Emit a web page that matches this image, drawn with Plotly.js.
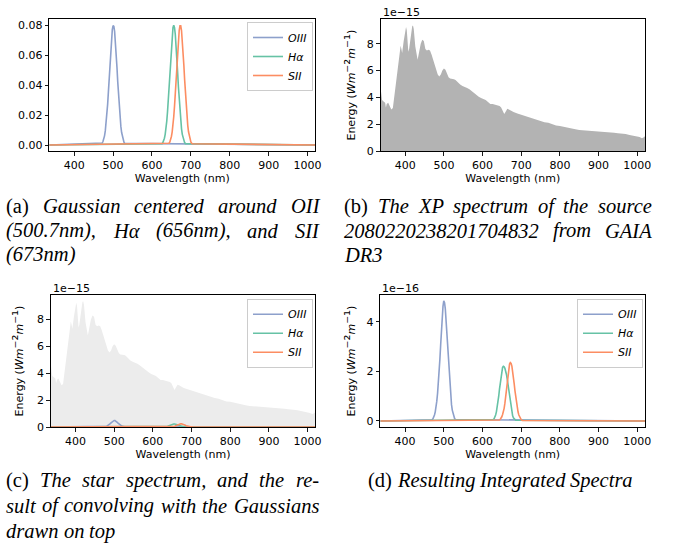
<!DOCTYPE html>
<html><head><meta charset="utf-8">
<script src="https://cdn.plot.ly/plotly-3.0.1.min.js"></script>
<style>
html,body{margin:0;padding:0;background:#fff;}
#chart{width:676px;height:552px;}
</style></head>
<body>
<div id="chart"></div>
<script>
// ---- data ----
const wlXP = [336,338,340,344,348,350,352,356,360,364,368,372,376,380,384,388,390,392,396,400,402,404,406,408,410,414,418,420,422,426,430,432,436,440,444,448,452,456,460,464,468,472,476,480,484,488,492,496,500,504,508,512,516,520,526,530,536,542,548,554,560,566,572,578,584,590,596,602,608,614,620,626,632,638,644,648,652,656,660,664,668,674,680,690,700,710,720,730,740,750,760,770,780,790,800,810,820,830,840,850,860,870,880,890,900,910,920,930,940,950,960,970,980,990,1000,1006,1012,1016,1020];
// flux in units of 1e-15 W m^-2 m^-1
const fluxXP = [4.75,4.2,3.8,3.7,3.6,3.25,3.5,3.6,3.3,3.1,3.2,4.1,5.1,6.2,7.2,7.85,7.6,7.3,8.2,9.0,9.25,9.0,8.0,7.4,7.6,8.6,9.3,9.35,9.1,7.8,6.9,6.8,7.4,8.0,8.3,8.2,7.6,7.5,7.55,7.5,7.2,6.8,6.4,5.95,5.7,5.55,5.7,6.0,6.15,6.05,5.75,5.5,5.4,5.4,5.35,5.3,5.1,4.95,4.85,4.8,4.7,4.6,4.45,4.3,4.2,4.05,3.95,3.9,3.8,3.65,3.5,3.5,3.45,3.4,3.35,3.25,3.0,2.75,2.95,3.15,3.1,3.0,2.9,2.8,2.7,2.6,2.5,2.45,2.35,2.25,2.15,2.1,2.0,1.9,1.87,1.8,1.72,1.66,1.62,1.57,1.55,1.52,1.5,1.48,1.46,1.44,1.42,1.42,1.36,1.32,1.3,1.26,1.2,1.15,1.1,1.05,0.96,1.0,1.1];

const wlOIII = [336,470,472,474,476,478,480,482,484,486,488,490,492,494,496,498,500,502,504,506,508,510,512,514,516,518,520,522,524,526,528,530,1020];
const wlHa   = [336,626,628,630,632,634,636,638,640,642,644,646,648,650,652,654,656,658,660,662,664,666,668,670,672,674,676,678,680,682,684,686,1020];
const wlSII  = [336,642,644,646,648,650,652,654,656,658,660,662,664,666,668,670,672,674,676,678,680,682,684,686,688,690,692,694,696,698,700,702,704,1020];

const filtOIII = [0,0.0008,0.0013,0.0023,0.0038,0.0061,0.0094,0.0139,0.0198,0.0271,0.0356,0.0450,0.0547,0.0638,0.0715,0.0769,0.0796,0.0791,0.0756,0.0693,0.0611,0.0518,0.0421,0.0330,0.0248,0.0179,0.0124,0.0083,0.0053,0.0032,0.0019,0.0011,0];
const filtHa   = [0,0.0009,0.0016,0.0027,0.0045,0.0071,0.0108,0.0158,0.0222,0.0299,0.0388,0.0484,0.0579,0.0667,0.0737,0.0782,0.0798,0.0782,0.0737,0.0667,0.0579,0.0484,0.0388,0.0299,0.0222,0.0158,0.0108,0.0071,0.0045,0.0027,0.0016,0.0009,0];
const filtSII  = [0,0.0008,0.0012,0.0021,0.0035,0.0057,0.0088,0.0131,0.0188,0.0259,0.0343,0.0436,0.0532,0.0625,0.0704,0.0763,0.0794,0.0794,0.0763,0.0704,0.0625,0.0532,0.0436,0.0343,0.0259,0.0188,0.0131,0.0088,0.0057,0.0035,0.0021,0.0012,0.0008,0];

// integrated spectra in units of 1e-16 W m^-2 m^-1
const intOIII = [0,0.05,0.09,0.15,0.24,0.37,0.55,0.80,1.12,1.51,1.96,2.50,3.08,3.69,4.24,4.63,4.85,4.78,4.53,4.05,3.48,2.88,2.29,1.78,1.32,0.96,0.66,0.44,0.28,0.17,0.10,0.06,0];
const intHa   = [0,0.03,0.06,0.09,0.15,0.24,0.37,0.54,0.75,1.00,1.29,1.58,1.86,2.06,2.17,2.21,2.19,2.13,2.03,1.88,1.69,1.47,1.20,0.93,0.68,0.48,0.32,0.21,0.13,0.08,0.05,0.03,0];
const intSII  = [0,0.02,0.04,0.07,0.11,0.17,0.26,0.37,0.51,0.72,0.99,1.30,1.64,1.92,2.14,2.30,2.36,2.33,2.22,2.02,1.78,1.50,1.22,0.96,0.72,0.52,0.36,0.24,0.15,0.09,0.06,0.03,0.02,0];

const lineNames = ['<i>OIII</i>','<i>Hα</i>','<i>SII</i>'];
const lineColors = ['#8da0cb','#66c2a5','#fc8d62'];
const xTicks = [400,500,600,700,800,900,1000];
const yTicksA = [0,0.02,0.04,0.06,0.08];
const yTickTextA = ['0.00','0.02','0.04','0.06','0.08'];
const yTicksBC = [0,2,4,6,8];
const yTicksD = [0,2,4];

const captionA = ['(a) Gaussian centered around OII', '(500.7nm), Hα (656nm), and SII', '(673nm)'];
const captionB = ['(b) The XP spectrum of the source', '2080220238201704832 from GAIA', 'DR3'];
const captionC = ['(c) The star spectrum, and the re-', 'sult of convolving with the Gaussians', 'drawn on top'];
const captionD = ['(d) Resulting Integrated Spectra'];

// ---- layout helpers ----
const W = 676, H = 552;
const px = v => v / W;
const py = v => 1 - v / H;
const tickFont = {family:'DejaVu Sans', size:11, color:'#000'};
const baseAxis = {
  showline:true, mirror:true, linecolor:'#000', linewidth:1,
  ticks:'outside', ticklen:3.5, tickwidth:0.9, tickcolor:'#000',
  tickfont:tickFont, showgrid:false, zeroline:false, automargin:false, fixedrange:true
};
const xAxis = (dom, anchor) => Object.assign({}, baseAxis, {
  domain:dom, anchor:anchor, range:[336,1020], tickmode:'array', tickvals:xTicks,
  title:{text:'Wavelength (nm)', font:{family:'DejaVu Sans', size:11, color:'#000'}, standoff:2}
});
const energyTitle = 'Energy (<i>Wm</i><span style="font-size:15px">⁻²</span><i>m</i><span style="font-size:15px">⁻¹</span>)';
const yTitle = s => ({text:energyTitle, font:{family:'DejaVu Sans', size:11, color:'#000'}, standoff:s});

const traces = [];
const wls = [wlOIII, wlHa, wlSII];
const filts = [filtOIII, filtHa, filtSII];
const ints = [intOIII, intHa, intSII];
// (a)
for (let i = 0; i < 3; i++) traces.push({x:wls[i], y:filts[i], type:'scatter', mode:'lines', name:lineNames[i],
  line:{color:lineColors[i], width:1.6}, xaxis:'x', yaxis:'y', legend:'legend', hoverinfo:'skip'});
// (b)
traces.push({x:wlXP, y:fluxXP, type:'scatter', mode:'lines', fill:'tozeroy', fillcolor:'#b3b3b3',
  line:{width:0, color:'#b3b3b3'}, xaxis:'x2', yaxis:'y2', showlegend:false, hoverinfo:'skip'});
// (c)
traces.push({x:wlXP, y:fluxXP, type:'scatter', mode:'lines', fill:'tozeroy', fillcolor:'#ececec',
  line:{width:0, color:'#ececec'}, xaxis:'x3', yaxis:'y3', showlegend:false, hoverinfo:'skip'});
for (let i = 0; i < 3; i++) traces.push({x:wls[i], y:ints[i], type:'scatter', mode:'lines', name:lineNames[i],
  line:{color:lineColors[i], width:1.6}, xaxis:'x3', yaxis:'y5', legend:'legend2', hoverinfo:'skip'});
// (d)
for (let i = 0; i < 3; i++) traces.push({x:wls[i], y:ints[i], type:'scatter', mode:'lines', name:lineNames[i],
  line:{color:lineColors[i], width:1.6}, xaxis:'x4', yaxis:'y4', legend:'legend3', hoverinfo:'skip'});

const legendBase = {xanchor:'right', yanchor:'top', bgcolor:'rgba(255,255,255,0.8)', bordercolor:'#cccccc',
  borderwidth:1, font:{family:'DejaVu Sans', size:11, color:'#000'}, tracegroupgap:0, itemwidth:30};

const domA = {x:[px(49.3), px(315.3)], y:[py(151), py(19.3)]};
const domB = {x:[px(380.5), px(645)], y:[py(151), py(19.3)]};
const domC = {x:[px(50.7), px(315.3)], y:[py(427), py(295)]};
const domD = {x:[px(380.3), px(645)], y:[py(427), py(295)]};

const annFont = {family:'DejaVu Sans', size:11, color:'#000'};
const annotations = [
  {text:'1e−15', xref:'paper', yref:'paper', x:px(380.5), y:py(12.5), xanchor:'left', yanchor:'middle', showarrow:false, font:annFont},
  {text:'1e−15', xref:'paper', yref:'paper', x:px(50.7), y:py(288), xanchor:'left', yanchor:'middle', showarrow:false, font:annFont},
  {text:'1e−16', xref:'paper', yref:'paper', x:px(380.3), y:py(288), xanchor:'left', yanchor:'middle', showarrow:false, font:annFont}
];

// ---- captions: justified lines built word by word ----
const CAP_SIZE = 20.5;
const capFamily = 'Liberation Serif';
const ctx = document.createElement('canvas').getContext('2d');
function measure(t, it) { ctx.font = (it ? 'italic ' : '') + CAP_SIZE + 'px "' + capFamily + '"'; return ctx.measureText(t).width; }
function addCaption(lines, x0, x1, ys, centered) {
  lines.forEach((line, li) => {
    const words = line.split(' ').map((w, wi) => ({t:w, it:!(li === 0 && wi === 0 && /^\([a-d]\)$/.test(w))}));
    const widths = words.map(w => measure(w.t, w.it));
    const total = widths.reduce((a, b) => a + b, 0);
    const sp = measure(' ', true);
    const last = li === lines.length - 1;
    let gap = sp, x = x0;
    if (centered) x = (x0 + x1) / 2 - (total + sp * (words.length - 1)) / 2;
    else if (!last && words.length > 1) gap = (x1 - x0 - total) / (words.length - 1);
    words.forEach((w, i) => {
      annotations.push({text: w.it ? '<i>' + w.t + '</i>' : w.t, xref:'paper', yref:'paper',
        x:px(x), y:py(ys[li]), xanchor:'left', yanchor:'middle', showarrow:false, borderpad:0,
        font:{family:capFamily, size:CAP_SIZE, color:'#000'}});
      x += widths[i] + gap;
    });
  });
}
addCaption(captionA, 5, 318, [206, 230.5, 255], false);
addCaption(captionB, 343, 651, [206, 230.5, 255], false);
addCaption(captionC, 5, 318, [480, 505.5, 531], false);
addCaption(captionD, 343, 655, [480], true);

const layout = {
  width:W, height:H, margin:{l:0,r:0,t:0,b:0}, paper_bgcolor:'#fff', plot_bgcolor:'#fff',
  font:{family:'DejaVu Sans', size:11, color:'#000'},
  xaxis: xAxis(domA.x, 'y'),
  yaxis: Object.assign({}, baseAxis, {domain:domA.y, anchor:'x', range:[-0.004,0.0838], tickmode:'array', tickvals:yTicksA, ticktext:yTickTextA}),
  xaxis2: xAxis(domB.x, 'y2'),
  yaxis2: Object.assign({}, baseAxis, {domain:domB.y, anchor:'x2', range:[0,9.82], tickmode:'array', tickvals:yTicksBC, title:yTitle(8)}),
  xaxis3: xAxis(domC.x, 'y3'),
  yaxis3: Object.assign({}, baseAxis, {domain:domC.y, anchor:'x3', range:[0,9.82], tickmode:'array', tickvals:yTicksBC, title:yTitle(11)}),
  yaxis5: {overlaying:'y3', anchor:'x3', range:[0,98.2], visible:false, fixedrange:true},
  xaxis4: xAxis(domD.x, 'y4'),
  yaxis4: Object.assign({}, baseAxis, {domain:domD.y, anchor:'x4', range:[-0.243,5.09], tickmode:'array', tickvals:yTicksD, title:yTitle(8)}),
  legend:  Object.assign({}, legendBase, {x:px(313), y:py(22)}),
  legend2: Object.assign({}, legendBase, {x:px(313), y:py(298.7)}),
  legend3: Object.assign({}, legendBase, {x:px(643), y:py(298.7)}),
  annotations: annotations
};
Plotly.newPlot('chart', traces, layout, {displayModeBar:false, staticPlot:true});
</script>
</body></html>
